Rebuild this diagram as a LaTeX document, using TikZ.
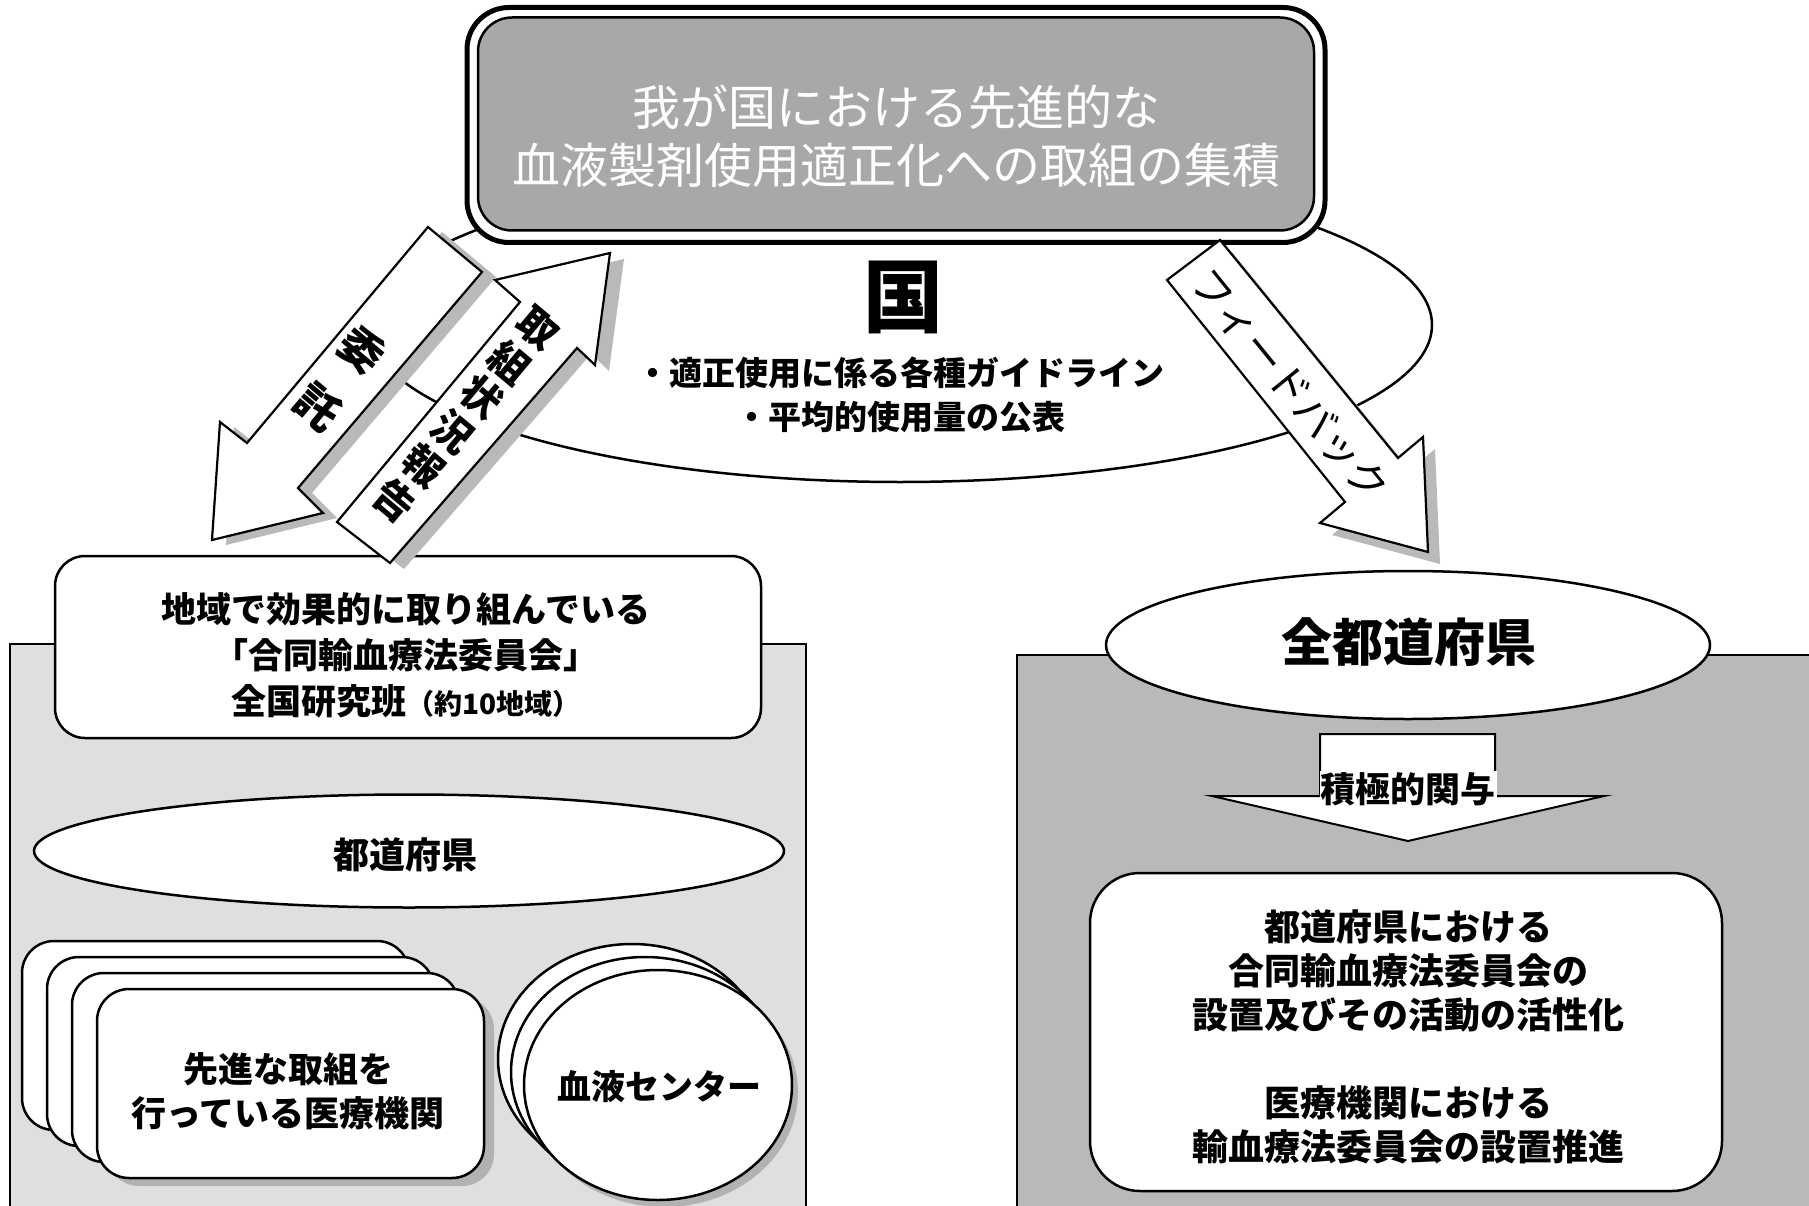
\documentclass[tikz,border=0pt]{standalone}
\usepackage{fontspec}
\newfontfamily\jp{Noto Sans CJK JP}
\usetikzlibrary{shapes.geometric}
\newcommand{\fsz}[2]{\fontsize{#1}{#2}\selectfont}
\begin{document}
\begin{tikzpicture}[x=1pt,y=-1pt,
  outl/.style={draw=black,line width=2.5pt},
  jt/.style={align=center,inner sep=0pt,text=black},
  panel/.style={draw=black,line width=1.2pt},
  shadow/.style={fill=gray!55,draw=none},
  blockarrow/.style={fill=white,draw=black,line width=2.2pt,line join=miter},
  rbox/.style={rectangle,outl,fill=white,rounded corners=#1},
  oval/.style={ellipse,outl,fill=white,inner sep=0pt}
]
\useasboundingbox (0,0) rectangle (1809,1206);
\fill[white] (0,0) rectangle (1809,1206);

% background panels
\path[panel,fill=gray!25] (10,644) rectangle (806,1212);
\path[panel,fill=gray!55] (1017,655) rectangle (1815,1212);

% central ellipse (Kuni)
\node[oval,minimum width=1064pt,minimum height=314pt] (gov) at (900,325) {};

% title box
\node[rectangle,draw=black,line width=5pt,fill=white,rounded corners=42pt,
  minimum width=858pt,minimum height=235pt] (titleo) at (896,125) {};
\node[rectangle,draw=black,line width=2.5pt,fill=gray!68,rounded corners=34pt,
  minimum width=836pt,minimum height=213pt] (titlei) at (896,124) {};
\node[jt,font={\jp\fsz{48}{58}},text=white] (title) at (896,136)
  {我が国における先進的な\\血液製剤使用適正化への取組の集積};

\node[jt,font={\jp\bfseries\fsz{80}{84}}] (kuni) at (903,297) {国};
\node[jt,font={\jp\bfseries\fsz{33}{44}}] (guide) at (900,395)
  {・適正使用に係る各種ガイドライン\\・平均的使用量の公表};

% regional box
\node[rbox=30pt,minimum width=706pt,minimum height=182pt] (region) at (408,647) {};
\node[jt,font={\jp\bfseries\fsz{35}{46}}] (regiontxt) at (406,655)
  {地域で効果的に取り組んでいる\\「合同輸血療法委員会」\\全国研究班{\fsz{28}{46}（約10地域）}};

% arrow: itaku (down-left)
\fill[shadow,shift={(14,5)}] (428,227) -- (482,272) -- (298,488) -- (323,513) -- (212,540) -- (220,422) -- (247,443) -- cycle;
\path[blockarrow] (428,227) -- (482,272) -- (298,488) -- (323,513) -- (212,540) -- (220,422) -- (247,443) -- cycle;
\node[jt,font={\jp\bfseries\fsz{44}{46}},rotate=-40] (itaku1) at (362,350) {委};
\node[jt,font={\jp\bfseries\fsz{44}{46}},rotate=-40] (itaku2) at (318,407) {託};

% arrow: report (up-right)
\fill[shadow,shift={(14,6)}] (337,522) -- (390,563) -- (577,348) -- (595,365) -- (610,253) -- (495,280) -- (520,302) -- cycle;
\path[blockarrow] (337,522) -- (390,563) -- (577,348) -- (595,365) -- (610,253) -- (495,280) -- (520,302) -- cycle;
\node[jt,font={\jp\bfseries\fsz{40}{45}},rotate=-40] (report) at (466,415) {取\\組\\状\\況\\報\\告};

% arrow: feedback (down-right)
\fill[shadow,shift={(12,12)}] (1167,280) -- (1220,240) -- (1398,458) -- (1423,437) -- (1428,552) -- (1320,523) -- (1345,502) -- cycle;
\path[blockarrow] (1167,280) -- (1220,240) -- (1398,458) -- (1423,437) -- (1428,552) -- (1320,523) -- (1345,502) -- cycle;
\node[jt,font={\jp\fsz{41}{44}},rotate=-51] (feedback) at (1290,385) {フィードバック};

% left panel contents
\node[oval,minimum width=750pt,minimum height=113pt] (pref) at (409,851) {};
\node[jt,font={\jp\bfseries\fsz{36}{40}}] (preftxt) at (405,855) {都道府県};

\foreach \k in {3,2,1} {
  \node[rbox=32pt,minimum width=387pt,minimum height=189pt] (hosp\k) at (290.5-25*\k,1083.5-16*\k) {};
}
\node[rectangle,fill=gray!60,rounded corners=32pt,minimum width=387pt,minimum height=189pt] (hospsh) at (300.5,1091.5) {};
\node[rbox=32pt,minimum width=387pt,minimum height=189pt] (hosp) at (290.5,1083.5) {};
\node[jt,font={\jp\bfseries\fsz{35}{44}}] (hosptxt) at (288,1091) {先進な取組を\\行っている医療機関};

\node[oval,minimum width=268pt,minimum height=230pt] (bc2) at (632,1059) {};
\node[oval,minimum width=268pt,minimum height=230pt] (bc1) at (645,1072) {};
\node[ellipse,fill=gray!60,minimum width=268pt,minimum height=230pt] (bcsh) at (664,1092) {};
\node[oval,minimum width=268pt,minimum height=230pt] (bc) at (658,1085) {};
\node[jt,font={\jp\bfseries\fsz{34}{40}}] (bctxt) at (659,1087) {血液センター};

% right panel contents
\node[oval,minimum width=604pt,minimum height=148pt] (allpref) at (1408,645) {};
\node[jt,font={\jp\bfseries\fsz{51}{56}}] (allpreftxt) at (1409,642) {全都道府県};

\path[blockarrow,line width=2pt] (1320,734) -- (1495,734) -- (1495,796) -- (1604,796) -- (1408,841) -- (1212,796) -- (1320,796) -- cycle;
\node[jt,font={\jp\bfseries\fsz{35}{38}},fill=white,inner sep=1pt] (engage) at (1408,789) {積極的関与};

\node[rbox=50pt,minimum width=632pt,minimum height=318pt] (goal) at (1406,1032) {};
\node[jt,font={\jp\bfseries\fsz{36}{44}}] (goaltxt) at (1408,1037)
  {都道府県における\\合同輸血療法委員会の\\設置及びその活動の活性化\\[44pt]医療機関における\\輸血療法委員会の設置推進};
\end{tikzpicture}
\end{document}
